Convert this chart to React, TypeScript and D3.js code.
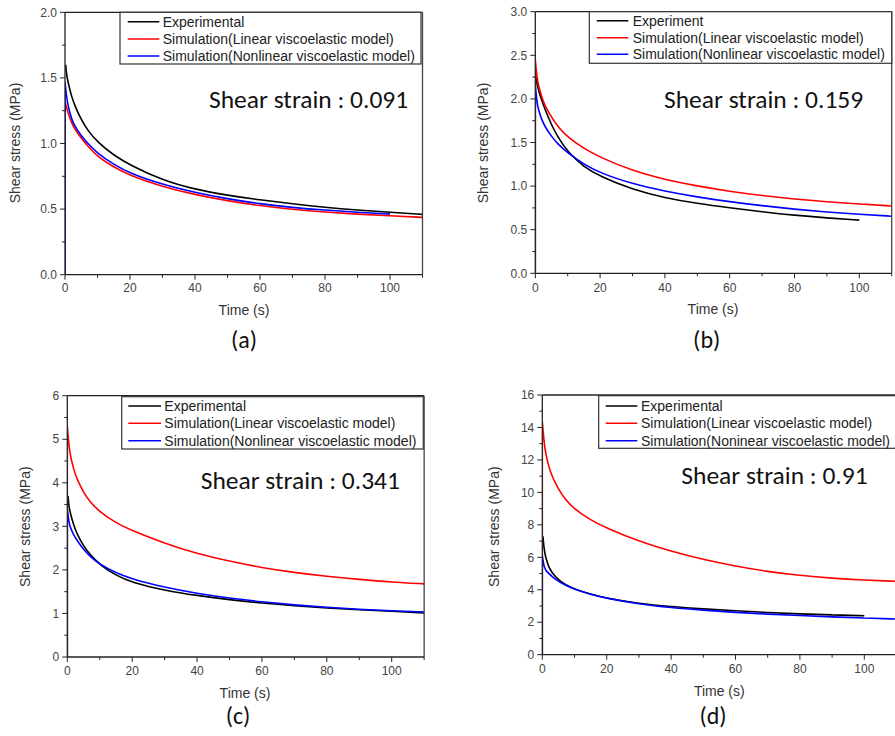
import React from "react";
import * as d3 from "d3";

// ---------- data ----------
const expTime = [0.2, 0.5, 1, 2, 3, 5, 7, 10, 15, 20, 30, 40, 50, 60, 70, 80, 90, 100, 110];
const simTime = [0, 0, 0.5, 1, 2, 3, 5, 7, 10, 15, 20, 30, 40, 50, 60, 70, 80, 90, 100, 110];

const aExp = [1.6, 1.52, 1.46, 1.36, 1.29, 1.18, 1.1, 1.01, 0.91, 0.836, 0.72, 0.65, 0.605, 0.57, 0.54, 0.513, 0.492, 0.476, 0.46];
const aLin = [0, 1.32, 1.27, 1.23, 1.16, 1.11, 1.04, 0.98, 0.9, 0.82, 0.755, 0.67, 0.61, 0.563, 0.526, 0.498, 0.477, 0.461, 0.449, 0.437];
const aNon = [0, 1.47, 1.35, 1.28, 1.19, 1.13, 1.06, 1.0, 0.925, 0.84, 0.773, 0.687, 0.627, 0.578, 0.54, 0.512, 0.492, 0.476, 0.462];

const bExp = [2.25, 2.17, 2.1, 1.98, 1.88, 1.7, 1.56, 1.39, 1.22, 1.11, 0.96, 0.865, 0.8, 0.75, 0.705, 0.665, 0.635, 0.61];
const bLin = [0, 2.45, 2.25, 2.15, 2.02, 1.92, 1.79, 1.68, 1.56, 1.43, 1.33, 1.175, 1.075, 1.0, 0.94, 0.89, 0.85, 0.82, 0.795, 0.772];
const bNon = [0, 2.15, 1.96, 1.87, 1.76, 1.68, 1.57, 1.48, 1.38, 1.25, 1.15, 1.025, 0.94, 0.875, 0.82, 0.775, 0.735, 0.703, 0.676, 0.655];

const cExp = [3.7, 3.45, 3.28, 3.02, 2.82, 2.55, 2.35, 2.12, 1.87, 1.71, 1.53, 1.41, 1.315, 1.235, 1.175, 1.125, 1.085, 1.05, 1.01];
const cLin = [0, 5.3, 4.85, 4.6, 4.3, 4.08, 3.78, 3.56, 3.33, 3.08, 2.9, 2.61, 2.37, 2.2, 2.05, 1.94, 1.85, 1.78, 1.72, 1.68];
const cNon = [0, 3.4, 3.08, 2.96, 2.8, 2.68, 2.47, 2.31, 2.13, 1.93, 1.79, 1.6, 1.46, 1.35, 1.265, 1.195, 1.14, 1.095, 1.06, 1.035];

const dExp = [7.3, 6.6, 6.0, 5.4, 5.05, 4.62, 4.32, 4.05, 3.72, 3.47, 3.15, 2.96, 2.82, 2.7, 2.6, 2.51, 2.45, 2.4];
const dLin = [0, 14.4, 13.2, 12.4, 11.6, 11.0, 10.2, 9.6, 8.95, 8.3, 7.8, 6.98, 6.37, 5.86, 5.45, 5.12, 4.88, 4.71, 4.6, 4.52];
const dNon = [0, 6.1, 5.45, 5.22, 5.0, 4.82, 4.52, 4.3, 4.02, 3.72, 3.47, 3.12, 2.9, 2.74, 2.6, 2.5, 2.41, 2.33, 2.26, 2.2];

const xTicks = [0, 20, 40, 60, 80, 100];
const aYTicks = ["0.0", "0.5", "1.0", "1.5", "2.0"];
const bYTicks = ["0.0", "0.5", "1.0", "1.5", "2.0", "2.5", "3.0"];
const cYTicks = ["0", "1", "2", "3", "4", "5", "6"];
const dYTicks = ["0", "2", "4", "6", "8", "10", "12", "14", "16"];

const legendA = ["Experimental", "Simulation(Linear viscoelastic model)", "Simulation(Nonlinear viscoelastic model)"];
const legendB = ["Experiment", "Simulation(Linear viscoelastic model)", "Simulation(Nonlinear viscoelastic model)"];
const legendC = ["Experimental", "Simulation(Linear viscoelastic model)", "Simulation(Nonlinear viscoelastic model)"];
const legendD = ["Experimental", "Simulation(Linear viscoelastic model)", "Simulation(Noninear viscoelastic model)"];

const strainLabels = ["Shear strain : 0.091", "Shear strain : 0.159", "Shear strain : 0.341", "Shear strain : 0.91"];
const panelLabels = ["(a)", "(b)", "(c)", "(d)"];

const seriesColors = ["#000000", "#ff0000", "#0000ff"];

// ---------- layout ----------
type PanelCfg = {
  id: string;
  x0: number; x100: number; yTop: number; yBot: number; yMax: number; yMinorStep: number;
  yTicks: string[]; exp: number[]; lin: number[]; non: number[]; legend: string[];
  leg: { x0: number; x1: number; y0: number; y1: number; rows: number[]; lineX0: number; lineX1: number; textX: number };
  strain: string; strainX: number; strainY: number; strainSize: number;
  yTitleX: number; yTitleY: number; xTickY: number; timeX: number; timeY: number;
  sub: string; subX: number; subY: number;
};

const panels: PanelCfg[] = [
  {
    id: "a", x0: 65, x100: 390, yTop: 12.3, yBot: 274.7, yMax: 2, yMinorStep: 0.25,
    yTicks: aYTicks, exp: aExp, lin: aLin, non: aNon, legend: legendA,
    leg: { x0: 120, x1: 421, y0: 12.3, y1: 64, rows: [21.7, 39, 56], lineX0: 127.7, lineX1: 159.3, textX: 162.7 },
    strain: strainLabels[0], strainX: 209, strainY: 108, strainSize: 25.5,
    yTitleX: 15, yTitleY: 143, xTickY: 288, timeX: 244, timeY: 310,
    sub: panelLabels[0], subX: 244, subY: 340,
  },
  {
    id: "b", x0: 535.3, x100: 859.3, yTop: 11.7, yBot: 273.3, yMax: 3, yMinorStep: 0.25,
    yTicks: bYTicks, exp: bExp, lin: bLin, non: bNon, legend: legendB,
    leg: { x0: 589.3, x1: 891.7, y0: 11.7, y1: 63.3, rows: [20.7, 37.7, 54.3], lineX0: 596.7, lineX1: 628.3, textX: 632.7 },
    strain: strainLabels[1], strainX: 664, strainY: 107.7, strainSize: 25.5,
    yTitleX: 483.3, yTitleY: 143, xTickY: 287.7, timeX: 713, timeY: 309,
    sub: panelLabels[1], subX: 706.7, subY: 340,
  },
  {
    id: "c", x0: 67.3, x100: 391.7, yTop: 395.7, yBot: 657, yMax: 6, yMinorStep: 0.5,
    yTicks: cYTicks, exp: cExp, lin: cLin, non: cNon, legend: legendC,
    leg: { x0: 121.7, x1: 423.3, y0: 396.7, y1: 449, rows: [406, 423.3, 440.7], lineX0: 128.3, lineX1: 161, textX: 164.3 },
    strain: strainLabels[2], strainX: 200.7, strainY: 489.3, strainSize: 25.5,
    yTitleX: 25, yTitleY: 526.7, xTickY: 671, timeX: 245, timeY: 692.7,
    sub: panelLabels[2], subX: 238, subY: 716,
  },
  {
    id: "d", x0: 542.3, x100: 864.3, yTop: 395, yBot: 654.7, yMax: 16, yMinorStep: 1,
    yTicks: dYTicks, exp: dExp, lin: dLin, non: dNon, legend: legendD,
    leg: { x0: 598.7, x1: 905, y0: 395.7, y1: 448.3, rows: [406, 423.3, 440.7], lineX0: 605.7, lineX1: 637.3, textX: 641 },
    strain: strainLabels[3], strainX: 681.3, strainY: 484, strainSize: 25.5,
    yTitleX: 494.3, yTitleY: 526.7, xTickY: 668.3, timeX: 719.3, timeY: 690.7,
    sub: panelLabels[3], subX: 713, subY: 716,
  },
];

const AXIS_FONT = "Arial, 'Liberation Sans', sans-serif";
const CAL_FONT = "Carlito, Lato, 'Open Sans', sans-serif";

function Panel({ p }: { p: PanelCfg }) {
  const x = d3.scaleLinear().domain([0, 100]).range([p.x0, p.x100]);
  const y = d3.scaleLinear().domain([0, p.yMax]).range([p.yBot, p.yTop]);
  const xEnd = x(110);
  const smooth = d3
    .line<[number, number]>()
    .x((d) => x(d[0]))
    .y((d) => y(d[1]))
    .curve(d3.curveBasis);
  const straight = d3
    .line<[number, number]>()
    .x((d) => x(d[0]))
    .y((d) => y(d[1]));

  const expPts = p.exp.map((v, i) => [expTime[i], v] as [number, number]);
  const linPts = p.lin.map((v, i) => [simTime[i], v] as [number, number]);
  const nonPts = p.non.map((v, i) => [simTime[i], v] as [number, number]);
  // simulated series: vertical jump at t = 0, then smooth relaxation
  const simPath = (pts: [number, number][]) =>
    (straight(pts.slice(0, 2)) || "") + (smooth(pts.slice(1)) || "");

  const yMinor = d3.range(0, p.yMax + 1e-9, p.yMinorStep);
  const majorEvery = Math.round(p.yMax / (p.yTicks.length - 1) / p.yMinorStep);
  const xMinor = d3.range(0, 111, 10);
  const clipId = `clip-${p.id}`;

  return (
    <g>
      <defs>
        <clipPath id={clipId}>
          <rect x={p.x0} y={p.yTop - 2} width={xEnd - p.x0 + 1} height={p.yBot - p.yTop + 2} />
        </clipPath>
      </defs>
      {/* curves */}
      <g clipPath={`url(#${clipId})`} fill="none" strokeWidth={1.6}>
        <path d={smooth(expPts) || ""} stroke={seriesColors[0]} />
        <path d={simPath(linPts)} stroke={seriesColors[1]} />
        <path d={simPath(nonPts)} stroke={seriesColors[2]} />
      </g>
      {/* frame */}
      <line x1={p.x0} x2={xEnd} y1={p.yTop} y2={p.yTop} stroke="#222" strokeWidth={1.3} />
      <line x1={xEnd} x2={xEnd} y1={p.yTop} y2={p.yBot} stroke="#444" strokeWidth={1.3} />
      <line x1={p.x0} x2={p.x0} y1={p.yTop} y2={p.yBot} stroke="#222" strokeWidth={1.3} />
      <line x1={p.x0} x2={xEnd} y1={p.yBot} y2={p.yBot} stroke="#222" strokeWidth={1.3} />
      {/* y ticks */}
      {yMinor.map((v, i) => (
        <line key={`ym${i}`} x1={p.x0} x2={p.x0 - (i % majorEvery === 0 ? 5 : 3)} y1={y(v)} y2={y(v)} stroke="#222" strokeWidth={1} />
      ))}
      {p.yTicks.map((t, i) => {
        const v = (p.yMax / (p.yTicks.length - 1)) * i;
        return (
          <text key={`yt${i}`} x={p.x0 - 8} y={y(v)} dy="0.35em" textAnchor="end" fontSize={12} fill="#444" fontFamily={AXIS_FONT}>
            {t}
          </text>
        );
      })}
      {/* x ticks */}
      {xMinor.map((v, i) => (
        <line key={`xm${i}`} x1={x(v)} x2={x(v)} y1={p.yBot} y2={p.yBot + (v % 20 === 0 ? 5 : 3)} stroke="#222" strokeWidth={1} />
      ))}
      {xTicks.map((v) => (
        <text key={`xt${v}`} x={x(v)} y={p.xTickY} dy="0.35em" textAnchor="middle" fontSize={12} fill="#444" fontFamily={AXIS_FONT}>
          {v}
        </text>
      ))}
      {/* axis titles */}
      <text x={p.timeX} y={p.timeY} dy="0.35em" textAnchor="middle" fontSize={14} fill="#333" fontFamily={AXIS_FONT}>
        Time (s)
      </text>
      <text transform={`translate(${p.yTitleX},${p.yTitleY}) rotate(-90)`} dy="0.35em" textAnchor="middle" fontSize={14} fill="#333" fontFamily={AXIS_FONT}>
        Shear stress (MPa)
      </text>
      {/* legend */}
      <rect x={p.leg.x0} y={p.leg.y0} width={p.leg.x1 - p.leg.x0} height={p.leg.y1 - p.leg.y0} fill="white" stroke="#333" strokeWidth={1.2} />
      {p.legend.map((name, i) => (
        <g key={`lg${i}`}>
          <line x1={p.leg.lineX0} x2={p.leg.lineX1} y1={p.leg.rows[i]} y2={p.leg.rows[i]} stroke={seriesColors[i]} strokeWidth={1.6} />
          <text x={p.leg.textX} y={p.leg.rows[i]} dy="0.35em" fontSize={14} fill="#222" fontFamily={AXIS_FONT}>
            {name}
          </text>
        </g>
      ))}
      {/* annotation */}
      <text x={p.strainX} y={p.strainY} fontSize={p.strainSize} fill="#111" fontFamily={CAL_FONT}>
        {p.strain}
      </text>
      <text x={p.subX} y={p.subY} dy="0.35em" textAnchor="middle" fontSize={24} fill="#111" fontFamily={CAL_FONT}>
        {p.sub}
      </text>
    </g>
  );
}

export default function App() {
  return (
    <div style={{ position: "absolute", left: 0, top: 0 }}>
      <svg width={895} height={736} style={{ display: "block", background: "white" }}>
        <rect width={895} height={736} fill="white" />
        {panels.map((p) => (
          <Panel key={p.id} p={p} />
        ))}
      </svg>
    </div>
  );
}
